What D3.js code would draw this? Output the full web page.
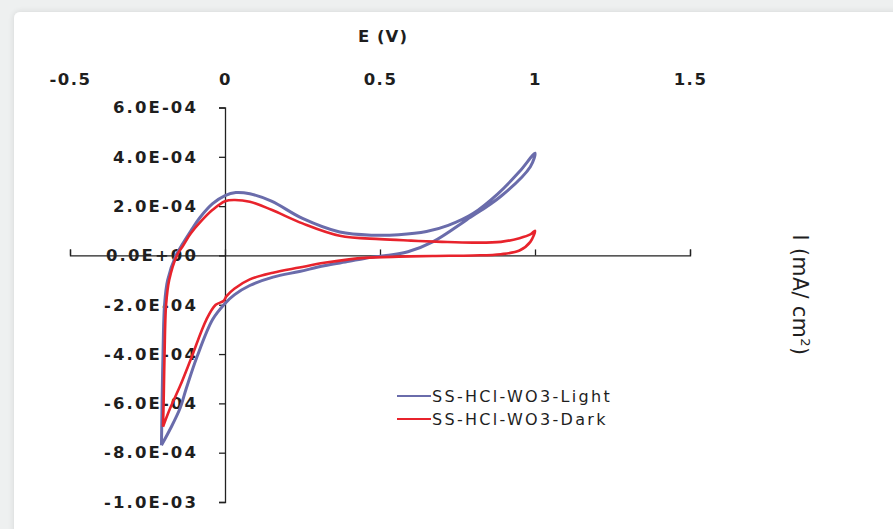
<!DOCTYPE html>
<html><head><meta charset="utf-8">
<script src="https://cdn.jsdelivr.net/npm/d3@7"></script>
<style>html,body{margin:0;padding:0;background:#eef0f0;} svg{display:block;}</style>
</head><body>
<svg id="c" width="893" height="529"></svg>
<script>
// ---- data ----
const xTicks = [-0.5, 0, 0.5, 1, 1.5];
const xTickLabels = ["-0.5", "0", "0.5", "1", "1.5"];
const yTicks = [6e-4, 4e-4, 2e-4, 0, -2e-4, -4e-4, -6e-4, -8e-4, -1e-3];
const yTickLabels = ["6.0E-04","4.0E-04","2.0E-04","0.0E+00","-2.0E-04","-4.0E-04","-6.0E-04","-8.0E-04","-1.0E-03"];
const seriesNames = ["SS-HCl-WO3-Light", "SS-HCl-WO3-Dark"];
const seriesColors = ["#6a6cab", "#e8232c"];
// Light cycle: potential E (V) and current I
const lightE = [-0.205,-0.203,-0.200,-0.195,-0.185,-0.158,-0.135,-0.11,-0.08,-0.04,0.0,0.035,0.08,0.15,0.25,0.37,0.48,0.56,0.65,0.72,0.80,0.88,0.95,1.0,
                0.985,0.89,0.78,0.67,0.59,0.52,0.45,0.40,0.32,0.24,0.155,0.08,0.03,0.0,-0.04,-0.09,-0.125,-0.145,-0.175,-0.205];
const lightI = [-7.7e-4,-6.0e-4,-4.0e-4,-2.0e-4,-1.0e-4,0.0,0.5e-4,1.0e-4,1.55e-4,2.1e-4,2.43e-4,2.55e-4,2.5e-4,2.2e-4,1.5e-4,0.95e-4,0.82e-4,0.84e-4,0.97e-4,1.22e-4,1.7e-4,2.5e-4,3.4e-4,4.15e-4,
                3.6e-4,2.4e-4,1.45e-4,0.55e-4,0.15e-4,0.0,-0.12e-4,-0.24e-4,-0.42e-4,-0.65e-4,-0.88e-4,-1.22e-4,-1.6e-4,-1.95e-4,-2.6e-4,-4.1e-4,-5.4e-4,-6.2e-4,-7.0e-4,-7.7e-4];
const darkE = [-0.2,-0.198,-0.195,-0.19,-0.18,-0.155,-0.135,-0.11,-0.08,-0.04,0.0,0.03,0.08,0.15,0.25,0.37,0.5,0.6,0.7,0.8,0.89,0.95,0.985,1.0,
               0.985,0.95,0.89,0.8,0.67,0.56,0.45,0.40,0.32,0.24,0.155,0.08,0.03,0.005,-0.005,-0.03,-0.06,-0.11,-0.145,-0.177,-0.2];
const darkI = [-6.95e-4,-6.0e-4,-4.0e-4,-2.0e-4,-1.0e-4,0.0,0.4e-4,0.9e-4,1.35e-4,1.85e-4,2.2e-4,2.25e-4,2.18e-4,1.85e-4,1.3e-4,0.8e-4,0.66e-4,0.6e-4,0.55e-4,0.52e-4,0.55e-4,0.7e-4,0.85e-4,1.0e-4,
               0.55e-4,0.2e-4,0.05e-4,0.0,-0.02e-4,-0.05e-4,-0.1e-4,-0.16e-4,-0.3e-4,-0.49e-4,-0.7e-4,-0.97e-4,-1.35e-4,-1.65e-4,-1.85e-4,-2.0e-4,-2.6e-4,-4.2e-4,-5.3e-4,-6.2e-4,-6.95e-4];

// ---- drawing ----
const svg = d3.select("#c");
const defs = svg.append("defs");
const f = defs.append("filter").attr("id","sh").attr("x","-5%").attr("y","-5%").attr("width","110%").attr("height","110%");
f.append("feGaussianBlur").attr("in","SourceAlpha").attr("stdDeviation",3);
f.append("feOffset").attr("dx",0).attr("dy",0).attr("result","b");
f.append("feComponentTransfer").append("feFuncA").attr("type","linear").attr("slope",0.12);
const fm = f.append("feMerge"); fm.append("feMergeNode"); fm.append("feMergeNode").attr("in","SourceGraphic");

svg.append("rect").attr("x",0).attr("y",0).attr("width",893).attr("height",529).attr("fill","#eef0f0");
svg.append("rect").attr("x",14).attr("y",12).attr("width",900).attr("height",540).attr("rx",6)
  .attr("fill","#ffffff").attr("filter","url(#sh)");

const x = d3.scaleLinear().domain([-0.5, 1.5]).range([70, 690]);
const y = d3.scaleLinear().domain([-1e-3, 6e-4]).range([502, 107.5]);

const font = "'DejaVu Sans', sans-serif";

// y axis
const yAxis = d3.axisLeft(y).tickValues(yTicks)
  .tickFormat((d,i) => yTickLabels[i]).tickSizeInner(6).tickSizeOuter(6).tickPadding(21);
const gy = svg.append("g").attr("transform", `translate(${x(0)},0)`).call(yAxis);
gy.selectAll("path,line").attr("stroke","#222").attr("stroke-width",1.3);
gy.selectAll("text").attr("font-family", font).attr("font-weight","bold")
  .attr("font-size",16.5).attr("letter-spacing","2.1px").attr("fill","#1e1e1e");

// x axis
const xAxis = d3.axisTop(x).tickValues(xTicks)
  .tickFormat((d,i) => xTickLabels[i]).tickSizeInner(6).tickSizeOuter(6).tickPadding(y(0) - 6 - 85);
const gx = svg.append("g").attr("transform", `translate(0,${y(0)})`).call(xAxis);
gx.selectAll("path,line").attr("stroke","#222").attr("stroke-width",1.3);
gx.selectAll("text").attr("font-family", font).attr("font-weight","bold")
  .attr("font-size",16.5).attr("letter-spacing","1.5px").attr("fill","#1e1e1e");

// axis titles
svg.append("text").attr("x",383).attr("y",42).attr("text-anchor","middle")
  .attr("font-family",font).attr("font-weight","bold").attr("font-size",16.5).attr("letter-spacing","1px")
  .attr("fill","#1e1e1e").text("E (V)");
const yt = svg.append("text").attr("transform","translate(793,295) rotate(90)").attr("text-anchor","middle")
  .attr("font-family",font).attr("font-size",20.5).attr("letter-spacing","0.5px").attr("fill","#1e1e1e");
yt.append("tspan").text("I (mA/ cm");
yt.append("tspan").attr("font-size",13).attr("dy",-8).text("2");
yt.append("tspan").attr("dy",8).text(")");

// curves
const line = d3.line().x(d => x(d[0])).y(d => y(d[1])).curve(d3.curveCatmullRom.alpha(0.5));
const lightPts = lightE.map((e,i) => [e, lightI[i]]);
const darkPts = darkE.map((e,i) => [e, darkI[i]]);
svg.append("path").attr("d", line(lightPts)).attr("fill","none").attr("stroke",seriesColors[0])
  .attr("stroke-width",3).attr("stroke-linejoin","round");
svg.append("path").attr("d", line(darkPts)).attr("fill","none").attr("stroke",seriesColors[1])
  .attr("stroke-width",2.6).attr("stroke-linejoin","round");

// legend
seriesNames.forEach((name,i) => {
  const ly = 396 + i*23;
  svg.append("line").attr("x1",397).attr("x2",431).attr("y1",ly).attr("y2",ly)
    .attr("stroke",seriesColors[i]).attr("stroke-width",2);
  svg.append("text").attr("x",432).attr("y",ly+6).attr("font-family",font)
    .attr("font-size",16).attr("letter-spacing","2.3px").attr("fill","#1e1e1e").text(name);
});
</script>
</body></html>
